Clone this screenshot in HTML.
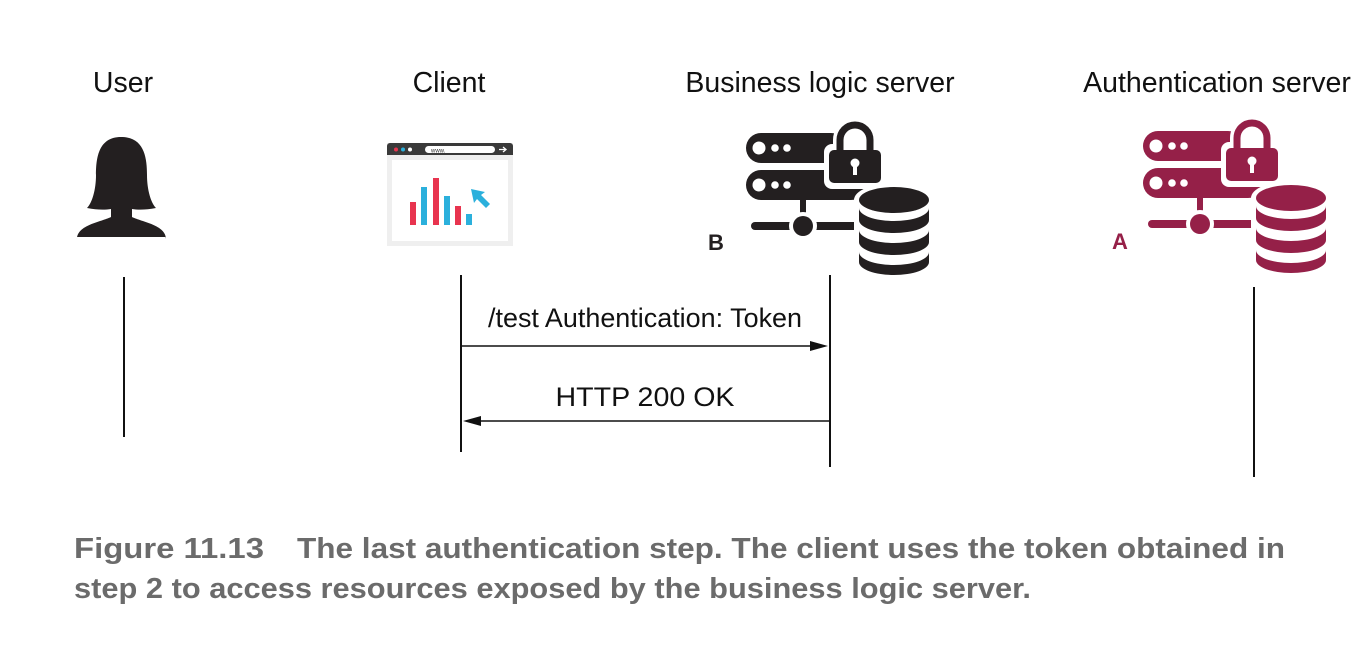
<!DOCTYPE html>
<html><head><meta charset="utf-8"><style>
html,body{margin:0;padding:0;background:#fff;}
svg{display:block}
</style></head><body>
<svg width="1360" height="672" viewBox="0 0 1360 672" xmlns="http://www.w3.org/2000/svg">
<defs>
<g id="srv">
  <rect x="0" y="13" width="100" height="30" rx="15"/>
  <rect x="0" y="50" width="120" height="30" rx="15"/>
  <circle cx="13" cy="28" r="6.5" fill="#fff"/>
  <circle cx="29" cy="28" r="3.8" fill="#fff"/>
  <circle cx="41" cy="28" r="3.8" fill="#fff"/>
  <circle cx="13" cy="65" r="6.5" fill="#fff"/>
  <circle cx="29" cy="65" r="3.8" fill="#fff"/>
  <circle cx="41" cy="65" r="3.8" fill="#fff"/>
  <rect x="78" y="24" width="62" height="45" rx="8" fill="#fff"/>
  <path d="M94 32 V20 a15 15 0 0 1 30 0 V32" fill="none" stroke="#fff" stroke-width="14"/>
  <path d="M94 32 V20 a15 15 0 0 1 30 0 V32" fill="none" stroke="currentColor" stroke-width="7"/>
  <rect x="83" y="30" width="52" height="33" rx="5"/>
  <circle cx="109" cy="43" r="4.5" fill="#fff"/>
  <rect x="107" y="44" width="4" height="11" fill="#fff"/>
  <rect x="54" y="80" width="6" height="26"/>
  <rect x="5" y="102" width="115" height="8" rx="4"/>
  <circle cx="57" cy="106" r="14" fill="#fff"/>
  <circle cx="57" cy="106" r="10"/>
  <ellipse cx="148" cy="80" rx="40" ry="17" fill="#fff"/>
  <rect x="108" y="80" width="80" height="70" fill="#fff"/>
  <ellipse cx="148" cy="146" rx="40" ry="16" fill="#fff"/>
  <ellipse cx="148" cy="80" rx="35" ry="13"/>
  <path d="M113 88 a35 13 0 0 0 70 0 V100 a35 13 0 0 1 -70 0Z"/>
  <path d="M113 110 a35 13 0 0 0 70 0 V122 a35 13 0 0 1 -70 0Z"/>
  <path d="M113 132 a35 13 0 0 0 70 0 V142 a35 13 0 0 1 -70 0Z"/>
</g>
</defs>

<g font-family="Liberation Sans, sans-serif" font-size="28.5" fill="#111" text-anchor="middle">
  <text x="123" y="92">User</text>
  <text x="449" y="92">Client</text>
  <text x="820" y="92">Business logic server</text>
  <text x="1217" y="92">Authentication server</text>
</g>

<path fill="#231f20" d="M121 137 c-22 0 -25 20 -25 38 c0 15 -4 28 -9 33 c10 2 18 2 24 1 v8 c-10 5 -34 8 -34 22 v-2 h89 v2 c0 -14 -24 -17 -34 -22 v-8 c6 1 14 1 24 -1 c-5 -5 -9 -18 -9 -33 c0 -18 -3 -38 -26 -38z"/>

<rect x="387" y="143" width="126" height="103" fill="#efefef"/>
<path d="M387 146 a3 3 0 0 1 3 -3 h120 a3 3 0 0 1 3 3 v9 h-126z" fill="#3a3a3a"/>
<circle cx="396" cy="149.5" r="2" fill="#e8344f"/>
<circle cx="403" cy="149.5" r="2" fill="#2bb0dc"/>
<circle cx="410" cy="149.5" r="2" fill="#fff"/>
<rect x="425" y="146" width="70" height="7" rx="3.5" fill="#fff"/>
<text x="431" y="152.5" font-family="Liberation Sans, sans-serif" font-size="6" fill="#333">www.</text>
<path d="M499 149.5 h7 m-3 -2.5 l3 2.5 l-3 2.5" stroke="#fff" stroke-width="1.3" fill="none"/>
<rect x="392" y="160" width="116" height="81" fill="#fff"/>
<rect x="410" y="202" width="6" height="23" fill="#e8344f"/>
<rect x="421" y="187" width="6" height="38" fill="#2bb0dc"/>
<rect x="433" y="178" width="6" height="47" fill="#e8344f"/>
<rect x="444" y="196" width="6" height="29" fill="#2bb0dc"/>
<rect x="455" y="206" width="6" height="19" fill="#e8344f"/>
<rect x="466" y="214" width="6" height="11" fill="#2bb0dc"/>
<path d="M471 189 l14 3 l-4 3 l9 9 l-4 4 l-9 -9 l-3 4z" fill="#2bb0dc"/>

<g transform="translate(746,120)" fill="#231f20" color="#231f20"><use href="#srv"/></g>
<text x="708" y="250" font-family="Liberation Sans, sans-serif" font-weight="bold" font-size="22" fill="#231f20">B</text>

<g transform="translate(1143,118)" fill="#952048" color="#952048"><use href="#srv"/></g>
<text x="1112" y="249" font-family="Liberation Sans, sans-serif" font-weight="bold" font-size="22" fill="#952048">A</text>

<g stroke="#111" stroke-width="2">
  <line x1="124" y1="277" x2="124" y2="437"/>
  <line x1="461" y1="275" x2="461" y2="452"/>
  <line x1="830" y1="275" x2="830" y2="467"/>
  <line x1="1254" y1="287" x2="1254" y2="477"/>
  <line x1="462" y1="346" x2="815" y2="346" stroke-width="1.5"/>
  <line x1="478" y1="421" x2="830" y2="421" stroke-width="1.5"/>
</g>
<path d="M828 346 l-18 -5 v10z" fill="#111"/>
<path d="M463 421 l18 -5 v10z" fill="#111"/>

<g font-family="Liberation Sans, sans-serif" font-size="27" fill="#111" text-anchor="middle">
  <text x="645" y="327" textLength="314" lengthAdjust="spacingAndGlyphs">/test Authentication: Token</text>
  <text x="645" y="406" textLength="179" lengthAdjust="spacingAndGlyphs">HTTP 200 OK</text>
</g>

<g font-family="Liberation Sans Narrow, Liberation Sans, sans-serif" font-weight="bold" font-size="29" fill="#6b6b6b">
  <text x="74" y="558" textLength="190" lengthAdjust="spacingAndGlyphs">Figure 11.13</text>
  <text x="297" y="558" textLength="988" lengthAdjust="spacingAndGlyphs">The last authentication step. The client uses the token obtained in</text>
  <text x="74" y="598" textLength="957" lengthAdjust="spacingAndGlyphs">step 2 to access resources exposed by the business logic server.</text>
</g>
</svg>
</body></html>
